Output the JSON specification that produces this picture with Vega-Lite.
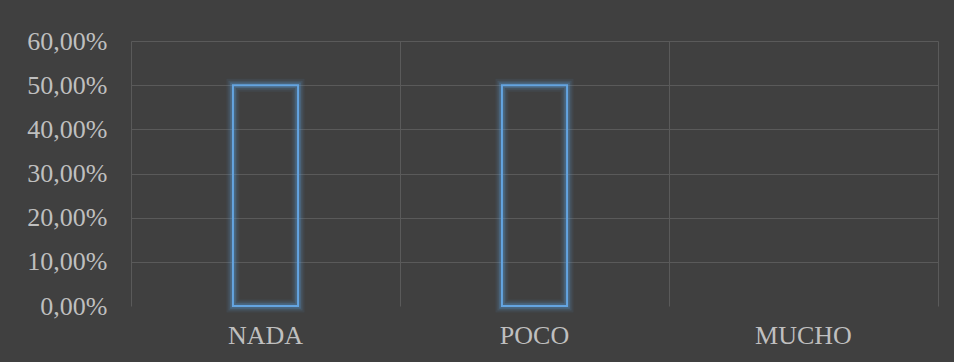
{
  "$schema": "https://vega.github.io/schema/vega-lite/v6.json",
  "autosize": "none",
  "width": 807,
  "height": 265,
  "padding": {"left": 131, "top": 41, "right": 16, "bottom": 56},
  "background": "#404040",
  "config": {
    "view": {"stroke": null},
    "font": "Liberation Serif",
    "axis": {
      "labelFont": "Liberation Serif",
      "labelFontSize": 26,
      "labelColor": "#bfbfbf",
      "ticks": false,
      "domain": false,
      "title": null
    }
  },
  "data": {
    "values": [
      {"nivel": "NADA", "pct": 0.5},
      {"nivel": "POCO", "pct": 0.5},
      {"nivel": "MUCHO", "pct": 0}
    ]
  },
  "encoding": {
    "x": {
      "field": "nivel",
      "type": "nominal",
      "sort": null,
      "scale": {"domain": ["NADA", "POCO", "MUCHO"], "paddingInner": 0, "paddingOuter": 0},
      "axis": {
        "labelAngle": 0,
        "labelPadding": 16,
        "grid": true,
        "bandPosition": 0,
        "gridColor": "#5a5a5a",
        "gridWidth": 1
      }
    }
  },
  "layer": [
    {
      "transform": [{"filter": "datum.pct > 0"}],
      "encoding": {
        "y": {
          "field": "pct",
          "type": "quantitative",
          "scale": {"domain": [0, 0.6], "nice": false},
          "axis": {
            "values": [0, 0.1, 0.2, 0.3, 0.4, 0.5, 0.6],
            "labelExpr": "replace(format(datum.value, '.2%'), '.', ',')",
            "labelPadding": 24,
            "grid": true,
            "gridColor": "#5a5a5a",
            "gridWidth": 1,
            "gridOpacity": {"condition": {"test": "datum.value === 0", "value": 0}, "value": 1}
          }
        }
      },
      "layer": [
        {
          "mark": {"type": "bar", "width": {"band": 0.242}, "fill": null, "fillOpacity": 0, "stroke": "#5b9bd5", "strokeWidth": 13, "strokeOpacity": 0.08}
        },
        {
          "mark": {"type": "bar", "width": {"band": 0.242}, "fill": null, "fillOpacity": 0, "stroke": "#5b9bd5", "strokeWidth": 9, "strokeOpacity": 0.14}
        },
        {
          "mark": {"type": "bar", "width": {"band": 0.242}, "fill": null, "fillOpacity": 0, "stroke": "#5b9bd5", "strokeWidth": 5.5, "strokeOpacity": 0.28}
        },
        {
          "mark": {"type": "bar", "width": {"band": 0.242}, "fill": null, "fillOpacity": 0, "stroke": "#64a4e0", "strokeWidth": 2}
        }
      ]
    },
    {
      "mark": {"type": "rule", "opacity": 0},
      "encoding": {
        "y": {
          "field": "pct",
          "type": "quantitative",
          "scale": {"domain": [0, 0.6], "nice": false},
          "axis": {"orient": "right", "labels": false, "grid": false, "domain": true, "domainColor": "#5a5a5a", "domainWidth": 1}
        }
      }
    }
  ],
  "resolve": {"axis": {"y": "independent"}}
}
